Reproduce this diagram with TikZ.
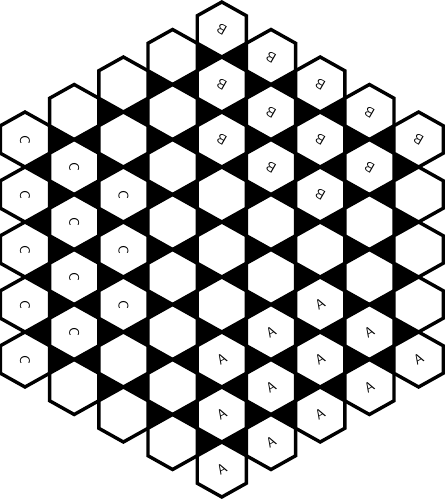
\documentclass[tikz,border=0pt]{standalone}
\begin{document}
\begin{tikzpicture}[x=1pt,y=-1pt,
  hexcell/.style={fill=white,draw=black,line width=3.4pt,line join=miter},
  tri/.style={fill=black},
  lab/.style={font=\sffamily\fontsize{14}{14}\selectfont,inner sep=0pt}]
\def\dx{49.2}\def\w{24.6}\def\R{27.5}\def\xo{25}\def\yo{29.5}
\useasboundingbox (0,0) rectangle (445,500);
% black triangles between hexagons
\foreach \col in {0,...,8}{
  \pgfmathtruncatemacro\mm{abs(\col-4)}
  \pgfmathtruncatemacro\nb{8-\mm}
  \foreach \kk in {0,...,\nb}{
    \pgfmathtruncatemacro\rr{\mm+2*\kk}
    \foreach \sd in {-1,1}{
      \pgfmathtruncatemacro\cn{\col+\sd}
      \pgfmathtruncatemacro\mn{abs(\cn-4)}
      \pgfmathtruncatemacro\ok{and(and(\cn>=0,\cn<=8),and(\rr-1>=\mn,\rr+1<=16-\mn))}
      \ifnum\ok=1
        \fill[tri] ({\xo+\dx*\col+\sd*\w},{\yo+\R*\rr-\R/2}) -- ({\xo+\dx*\cn},{\yo+\R*\rr}) -- ({\xo+\dx*\col+\sd*\w},{\yo+\R*\rr+\R/2}) -- cycle;
      \fi
    }
  }
}
% hexagons
\foreach \col in {0,...,8}{
  \pgfmathtruncatemacro\mm{abs(\col-4)}
  \pgfmathtruncatemacro\nb{8-\mm}
  \foreach \kk in {0,...,\nb}{
    \pgfmathsetmacro\hx{\xo+\dx*\col}
    \pgfmathsetmacro\hy{\yo+\R*(\mm+2*\kk)}
    \draw[hexcell] ({\hx},{\hy-\R}) -- ({\hx+\w},{\hy-\R/2}) -- ({\hx+\w},{\hy+\R/2}) -- ({\hx},{\hy+\R}) -- ({\hx-\w},{\hy+\R/2}) -- ({\hx-\w},{\hy-\R/2}) -- cycle;
  }
}
% labels
\foreach \col/\rr in {0/4,0/6,0/8,0/10,0/12,1/5,1/7,1/9,1/11,2/6,2/8,2/10}
  \node[lab,rotate=270] (C-\col-\rr) at ({\xo+\dx*\col},{\yo+\R*\rr}) {C};
\foreach \col/\rr in {4/0,4/2,4/4,5/1,5/3,5/5,6/2,6/4,6/6,7/3,7/5,8/4}
  \node[lab,rotate=150] (B-\col-\rr) at ({\xo+\dx*\col},{\yo+\R*\rr}) {B};
\foreach \col/\rr in {4/12,4/14,4/16,5/11,5/13,5/15,6/10,6/12,6/14,7/11,7/13,8/12}
  \node[lab,rotate=30] (A-\col-\rr) at ({\xo+\dx*\col},{\yo+\R*\rr}) {A};
\end{tikzpicture}
\end{document}
